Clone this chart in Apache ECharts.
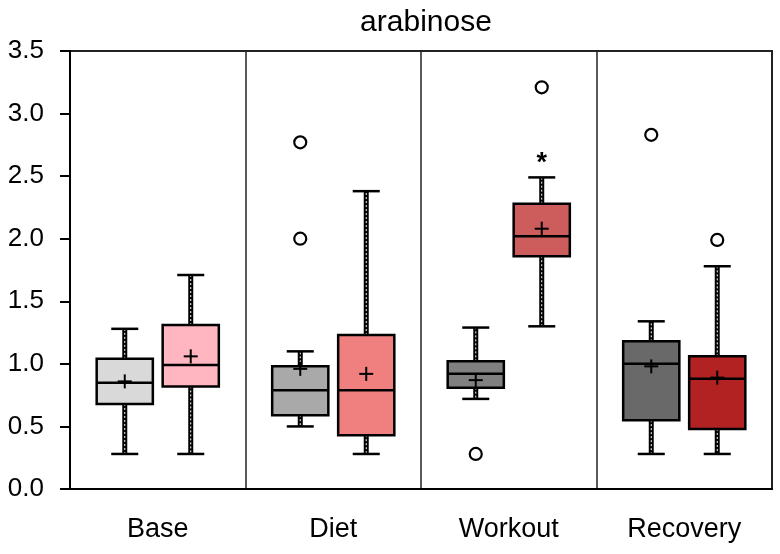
<!DOCTYPE html>
<html>
<head>
<meta charset="utf-8">
<script src="https://cdn.jsdelivr.net/npm/echarts@6/dist/echarts.min.js"></script>
<style>html,body{margin:0;padding:0;background:#fff}#chart{width:780px;height:554px}</style>
</head>
<body>
<div id="chart"></div>
<script>
// ---- data ----
const categories = ['Base', 'Diet', 'Workout', 'Recovery'];
const yTicks = [0, 0.5, 1.0, 1.5, 2.0, 2.5, 3.0, 3.5];
// [min, q1, median, q3, max] per category
const controlBox = [
  [0.28, 0.68, 0.85, 1.04, 1.28],
  [0.50, 0.59, 0.79, 0.98, 1.10],
  [0.72, 0.81, 0.92, 1.02, 1.29],
  [0.28, 0.55, 1.00, 1.18, 1.34]
];
const controlMean = [0.86, 0.96, 0.87, 0.98];
const controlOutliers = [[1, 2.77], [1, 2.00], [2, 0.28], [3, 2.83]];
const treatBox = [
  [0.28, 0.82, 0.99, 1.31, 1.71],
  [0.28, 0.43, 0.79, 1.23, 2.38],
  [1.30, 1.86, 2.02, 2.28, 2.49],
  [0.28, 0.48, 0.88, 1.06, 1.78]
];
const treatMean = [1.06, 0.92, 2.08, 0.89];
const treatOutliers = [[2, 3.21], [3, 1.99]];
const treatSignificance = [[2, 2.65]];
const controlColors = ['#D9D9D9', '#A9A9A9', '#808080', '#696969'];
const treatColors = ['#FFB6C1', '#F08080', '#CD5C5C', '#B22222'];

// ---- layout helpers ----
const OFFSET_FRAC = 0.188;  // box centre offset as fraction of band
const HALF_FRAC = 0.16;     // half box width as fraction of band
const CAP_FRAC = 0.077;     // half whisker-cap width

function boxData(boxes, means) {
  return boxes.map((b, i) => [i, b[0], b[1], b[2], b[3], b[4], means[i]]);
}

function boxRenderer(colors, side) {
  return function (params, api) {
    const i = api.value(0);
    const band = api.size([1, 0])[0];
    const cx = api.coord([i, 0])[0] + side * band * OFFSET_FRAC;
    const half = band * HALF_FRAC;
    const capHalf = band * CAP_FRAC;
    const y = v => api.coord([i, v])[1];
    const yMin = y(api.value(1)), yQ1 = y(api.value(2)), yMed = y(api.value(3)),
          yQ3 = y(api.value(4)), yMax = y(api.value(5)), yMean = y(api.value(6));
    const ch = [];
    [[yQ3, yMax], [yQ1, yMin]].forEach(([a, b]) => {
      ch.push({ type: 'line', shape: { x1: cx, y1: a, x2: cx, y2: b }, style: { stroke: '#000', lineWidth: 5 } });
      ch.push({ type: 'line', shape: { x1: cx, y1: a, x2: cx, y2: b }, style: { stroke: '#fff', lineWidth: 1, lineDash: [2, 2] } });
      ch.push({ type: 'line', shape: { x1: cx - capHalf, y1: b, x2: cx + capHalf, y2: b }, style: { stroke: '#000', lineWidth: 2.5 } });
    });
    ch.push({ type: 'rect', shape: { x: cx - half, y: yQ3, width: 2 * half, height: yQ1 - yQ3 },
      style: { fill: colors[params.dataIndex], stroke: '#000', lineWidth: 2.5 } });
    ch.push({ type: 'line', shape: { x1: cx - half, y1: yMed, x2: cx + half, y2: yMed }, style: { stroke: '#000', lineWidth: 2.5 } });
    ch.push({ type: 'line', shape: { x1: cx - 7, y1: yMean, x2: cx + 7, y2: yMean }, style: { stroke: '#000', lineWidth: 2 } });
    ch.push({ type: 'line', shape: { x1: cx, y1: yMean - 7, x2: cx, y2: yMean + 7 }, style: { stroke: '#000', lineWidth: 2 } });
    return { type: 'group', children: ch };
  };
}

function outlierRenderer(side) {
  return function (params, api) {
    const i = api.value(0);
    const band = api.size([1, 0])[0];
    const p = api.coord([i, api.value(1)]);
    return { type: 'circle', shape: { cx: p[0] + side * band * OFFSET_FRAC, cy: p[1], r: 6 },
      style: { fill: '#fff', stroke: '#000', lineWidth: 2.2 } };
  };
}

function starRenderer(side) {
  return function (params, api) {
    const i = api.value(0);
    const band = api.size([1, 0])[0];
    const p = api.coord([i, api.value(1)]);
    return { type: 'text', x: p[0] + side * band * OFFSET_FRAC, y: p[1] + 6,
      style: { text: '*', font: 'bold 27px "Liberation Sans", Arial, sans-serif', fill: '#000',
        textAlign: 'center', textVerticalAlign: 'middle' } };
  };
}

const chart = echarts.init(document.getElementById('chart'), null, { renderer: 'canvas' });
const FONT = '"Liberation Sans", Arial, Helvetica, sans-serif';
chart.setOption({
  animation: false,
  backgroundColor: '#fff',
  title: {
    text: 'arabinose', left: 421, top: 3, textAlign: 'center',
    textStyle: { fontFamily: FONT, fontSize: 30, fontWeight: 'normal', color: '#000' }
  },
  grid: { left: 70, right: 8, top: 51, bottom: 65, show: true, borderColor: '#222', borderWidth: 2, backgroundColor: 'transparent' },
  xAxis: {
    type: 'category', data: categories, boundaryGap: true,
    axisLine: { lineStyle: { color: '#000', width: 2 } },
    axisTick: { alignWithLabel: true, length: 9, lineStyle: { color: '#000', width: 2 } },
    axisLabel: { fontFamily: FONT, fontSize: 27, color: '#000', margin: 27 },
    splitLine: { show: true, lineStyle: { color: '#222', width: 1.5 } }
  },
  yAxis: {
    type: 'value', min: yTicks[0], max: yTicks[yTicks.length - 1], interval: 0.5,
    axisLine: { show: true, lineStyle: { color: '#000', width: 2 } },
    axisTick: { show: true, length: 10, lineStyle: { color: '#000', width: 2 } },
    axisLabel: { fontFamily: FONT, fontSize: 26, color: '#000', margin: 26, formatter: v => v.toFixed(1) },
    splitLine: { show: false }
  },
  series: [
    { type: 'custom', name: 'control', data: boxData(controlBox, controlMean), renderItem: boxRenderer(controlColors, -1), encode: { x: 0, y: [1, 2, 3, 4, 5] }, z: 3 },
    { type: 'custom', name: 'treatment', data: boxData(treatBox, treatMean), renderItem: boxRenderer(treatColors, 1), encode: { x: 0, y: [1, 2, 3, 4, 5] }, z: 3 },
    { type: 'custom', name: 'control outliers', data: controlOutliers, renderItem: outlierRenderer(-1), encode: { x: 0, y: 1 }, z: 4 },
    { type: 'custom', name: 'treatment outliers', data: treatOutliers, renderItem: outlierRenderer(1), encode: { x: 0, y: 1 }, z: 4 },
    { type: 'custom', name: 'significance', data: treatSignificance, renderItem: starRenderer(1), encode: { x: 0, y: 1 }, z: 4 }
  ]
});
</script>
</body>
</html>
